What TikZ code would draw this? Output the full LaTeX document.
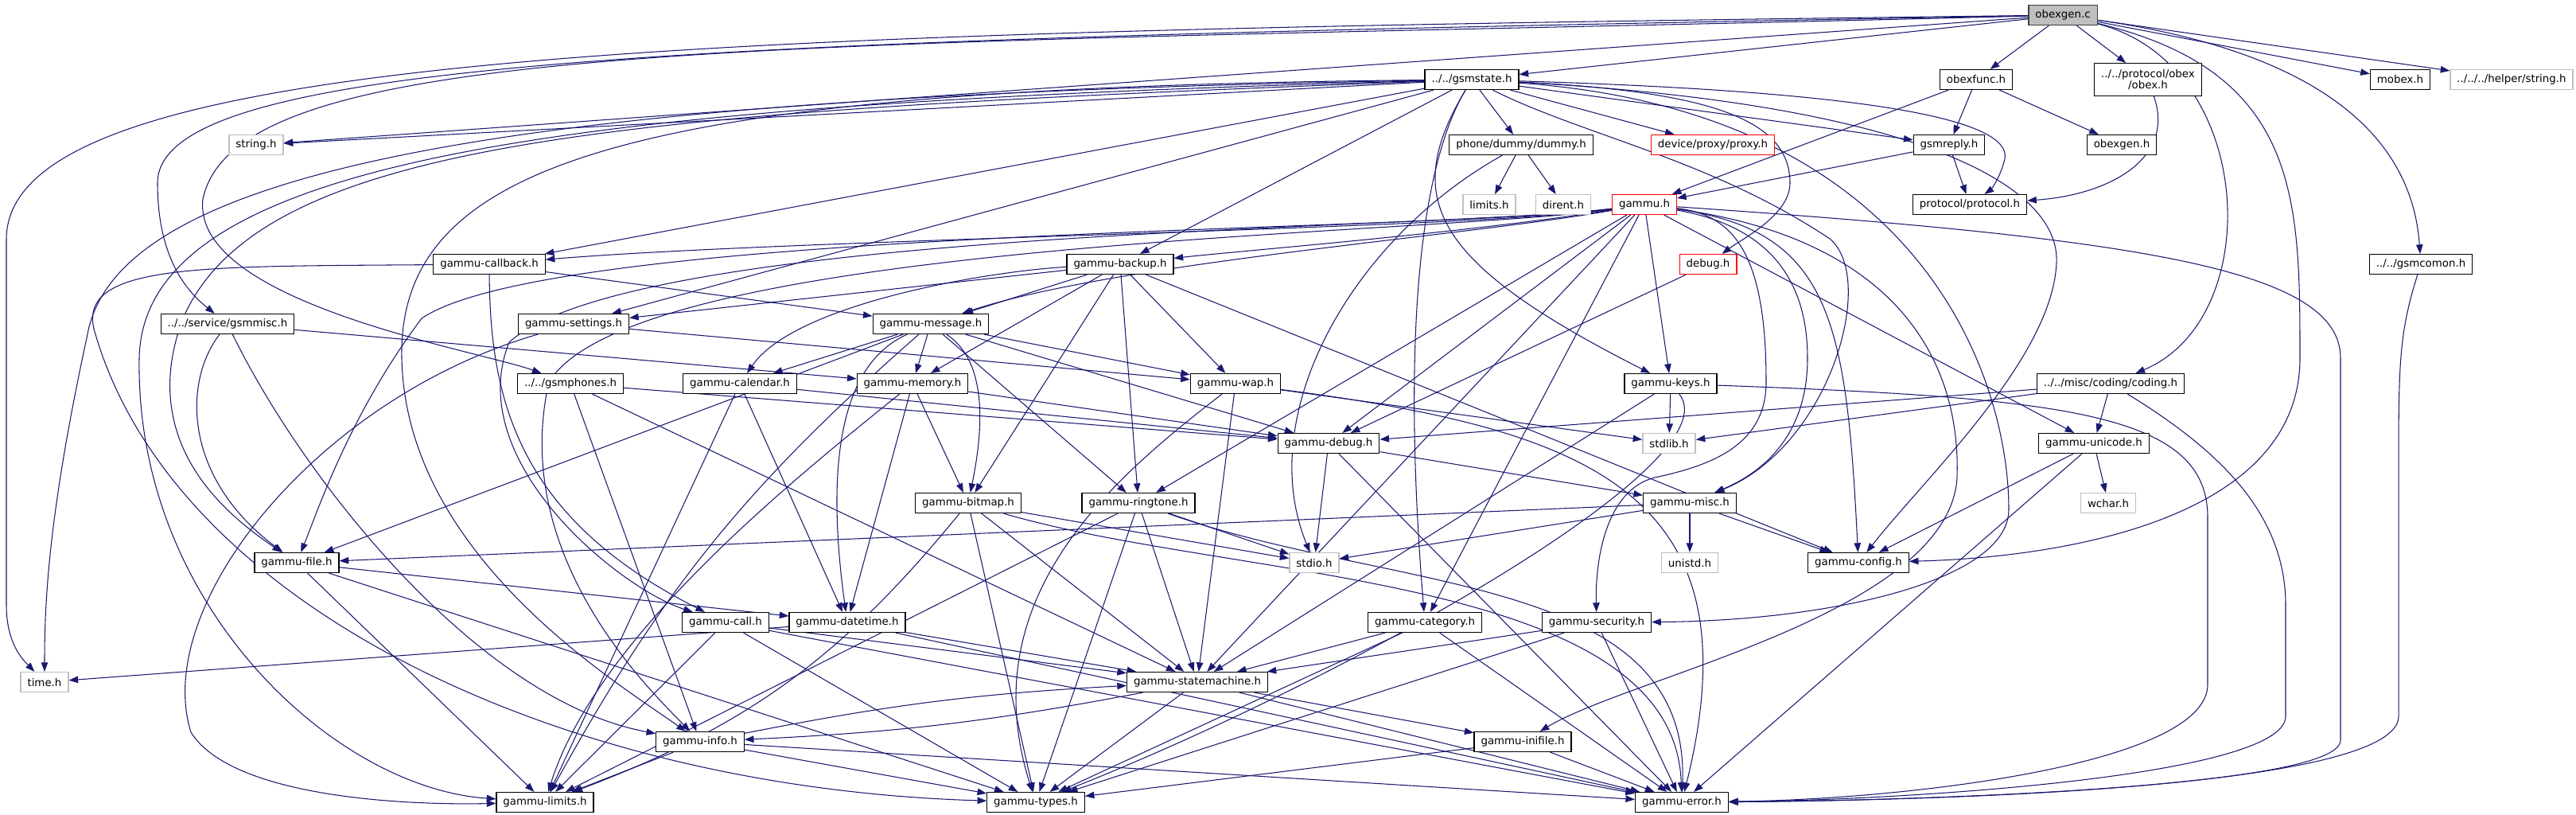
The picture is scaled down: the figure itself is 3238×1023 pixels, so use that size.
\documentclass[tikz,border=0pt]{standalone}
\usepackage{fontspec}
\setmainfont{DejaVu Sans}
\usetikzlibrary{arrows.meta,backgrounds}
\definecolor{edgeblue}{HTML}{191970}
\definecolor{sysgray}{HTML}{BFBFBF}
\begin{document}
\begin{tikzpicture}[x=0.01cm,y=-0.01cm,
    hdr/.style={draw=black, line width=0.35pt, fill=white, minimum height=7.1pt,
        inner xsep=2.4pt, inner ysep=0pt, font=\fontsize{3.8}{4.2}\selectfont},
    syshdr/.style={hdr, draw=sysgray},
    cuthdr/.style={hdr, draw=red},
    srcfile/.style={hdr, fill=sysgray, draw=black!75},
    inc/.style={draw=edgeblue, line width=0.3pt, -{Triangle[length=3.3pt,width=2.4pt]}}]
    \useasboundingbox (0,0) rectangle (3238,1023);
    % top rows
    \node[srcfile] (obexgenc) at (2593,19) {obexgen.c};
    \node[hdr] (gsmstate) at (1850,100) {../../gsmstate.h};
    \node[hdr] (obexfunc) at (2484,100) {obexfunc.h};
    \node[hdr, align=center, minimum height=11.6pt] (obexh) at (2700,100) {../../protocol/obex\\/obex.h};
    \node[hdr] (mobex) at (3017,100) {mobex.h};
    \node[syshdr] (hstring) at (3157,100) {../../../helper/string.h};
    \node[hdr] (dummy) at (1912,182) {phone/dummy/dummy.h};
    \node[cuthdr] (proxy) at (2153,182) {device/proxy/proxy.h};
    \node[hdr] (gsmreply) at (2450,182) {gsmreply.h};
    \node[hdr] (obexgenh) at (2667,182) {obexgen.h};
    \node[syshdr] (stringh) at (322,182) {string.h};
    \node[syshdr] (limits) at (1872,257) {limits.h};
    \node[syshdr] (dirent) at (1965,257) {dirent.h};
    \node[cuthdr] (gammuh) at (2067,257) {gammu.h};
    \node[hdr] (protocol) at (2476,257) {protocol/protocol.h};
    \node[cuthdr] (debugh) at (2147,332) {debug.h};
    \node[hdr] (gsmcomon) at (3043,332) {../../gsmcomon.h};
    \node[hdr] (callback) at (615,332) {gammu-callback.h};
    \node[hdr] (backup) at (1408,332) {gammu-backup.h};
    % middle rows
    \node[hdr] (gsmmisc) at (286,407) {../../service/gsmmisc.h};
    \node[hdr] (settings) at (721,407) {gammu-settings.h};
    \node[hdr] (message) at (1170,407) {gammu-message.h};
    \node[hdr] (gsmphones) at (717,482) {../../gsmphones.h};
    \node[hdr] (calendar) at (930,482) {gammu-calendar.h};
    \node[hdr] (memory) at (1147,482) {gammu-memory.h};
    \node[hdr] (wap) at (1553,482) {gammu-wap.h};
    \node[hdr] (keys) at (2100,482) {gammu-keys.h};
    \node[hdr] (coding) at (2653,482) {../../misc/coding/coding.h};
    \node[hdr] (gdebug) at (1670,557) {gammu-debug.h};
    \node[syshdr] (stdlib) at (2098,557) {stdlib.h};
    \node[hdr] (unicode) at (2632,557) {gammu-unicode.h};
    \node[hdr] (bitmap) at (1217,632) {gammu-bitmap.h};
    \node[hdr] (ringtone) at (1431,632) {gammu-ringtone.h};
    \node[hdr] (misc) at (2124,632) {gammu-misc.h};
    \node[syshdr] (wchar) at (2650,632) {wchar.h};
    \node[hdr] (file) at (373,707) {gammu-file.h};
    \node[syshdr] (stdio) at (1652,707) {stdio.h};
    \node[syshdr] (unistd) at (2124,707) {unistd.h};
    \node[hdr] (config) at (2336,707) {gammu-config.h};
    % bottom rows
    \node[hdr] (call) at (912,782) {gammu-call.h};
    \node[hdr] (datetime) at (1065,782) {gammu-datetime.h};
    \node[hdr] (category) at (1791,782) {gammu-category.h};
    \node[hdr] (security) at (2007,782) {gammu-security.h};
    \node[syshdr] (timeh) at (56,857) {time.h};
    \node[hdr] (statemachine) at (1505,857) {gammu-statemachine.h};
    \node[hdr] (info) at (880,932) {gammu-info.h};
    \node[hdr] (inifile) at (1914,932) {gammu-inifile.h};
    \node[hdr] (glimits) at (685,1008) {gammu-limits.h};
    \node[hdr] (types) at (1302,1008) {gammu-types.h};
    \node[hdr] (error) at (2114,1008) {gammu-error.h};
    \begin{scope}[on background layer]
    % straight includes
    \foreach \a/\b in {obexgenc/gsmstate, obexgenc/obexfunc, obexgenc/obexh, obexgenc/mobex,
        obexgenc/hstring, obexgenc/stringh, gsmstate/stringh, gsmstate/callback, gsmstate/settings,
        gsmstate/backup, gsmstate/dummy, gsmstate/proxy, gsmstate/gsmreply,
        obexfunc/gammuh, obexfunc/gsmreply, obexfunc/obexgenh, gsmreply/gammuh, gsmreply/protocol,
        dummy/limits, dummy/dirent, gammuh/gdebug,
        gammuh/ringtone, gammuh/statemachine, gammuh/category, gammuh/keys, gammuh/unicode,
        debugh/gdebug, callback/message, backup/message, backup/memory, backup/settings,
        backup/bitmap, backup/ringtone, backup/wap, backup/config, gsmmisc/memory, settings/wap,
        message/memory, message/ringtone, message/wap, message/gdebug, message/file, message/calendar,
        gsmphones/gdebug, gsmphones/info, gsmphones/statemachine, calendar/gdebug, calendar/datetime,
        calendar/glimits, memory/bitmap, memory/datetime, memory/gdebug, wap/stdlib, wap/statemachine,
        keys/stdlib, keys/statemachine, coding/unicode, coding/stdlib, coding/gdebug, gdebug/stdio,
        gdebug/misc, gdebug/error, unicode/wchar, unicode/config, unicode/error, bitmap/stdio,
        bitmap/statemachine, bitmap/types, ringtone/stdio, ringtone/statemachine, ringtone/types,
        ringtone/glimits, misc/unistd, misc/config, misc/stdio, misc/file, file/datetime, file/glimits,
        file/types, call/statemachine, call/glimits, call/types, call/error, datetime/timeh,
        datetime/statemachine, datetime/error, category/statemachine, category/types, category/error,
        security/statemachine, security/types, security/error, statemachine/inifile,
        statemachine/types, statemachine/error, info/glimits, info/types, info/error, inifile/types,
        inifile/error}
        \draw[inc] (\a) -- (\b);
    % routed includes
    \draw[inc] (obexgenc) .. controls (900,40) and (10,60) .. (8,300) -- (8,760) .. controls (8,810) and (30,830) .. (timeh);
    \draw[inc] (obexgenc) .. controls (900,50) and (198,70) .. (198,230) .. controls (198,330) and (240,370) .. (gsmmisc);
    \draw[inc] (obexgenc) .. controls (1000,60) and (300,40) .. (255,250) .. controls (240,380) and (600,440) .. (gsmphones);
    \draw[inc] (obexgenc) .. controls (2880,60) and (3030,150) .. (gsmcomon);
    \draw[inc] (obexgenc) .. controls (2836,80) and (2850,400) .. (coding);
    \draw[inc] (obexgenc) .. controls (2891,90) and (2891,250) .. (2891,450) .. controls (2891,650) and (2600,700) .. (config);
    \draw[inc] (gsmstate) .. controls (700,120) and (150,200) .. (110,420) .. controls (60,650) and (56,760) .. (timeh);
    \draw[inc] (gsmstate) .. controls (800,140) and (330,170) .. (230,400) .. controls (170,560) and (290,650) .. (file);
    \draw[inc] (gsmstate) .. controls (750,130) and (180,190) .. (175,450) .. controls (170,760) and (420,990) .. (glimits);
    \draw[inc] (gsmstate) .. controls (800,110) and (500,200) .. (505,450) .. controls (510,700) and (780,860) .. (info);
    \draw[inc] (gsmstate) .. controls (2150,115) and (2250,150) .. (2250,230) .. controls (2250,270) and (2190,300) .. (debugh);
    \draw[inc] (gsmstate) .. controls (1790,200) and (1760,400) .. (category);
    \draw[inc] (gsmstate) .. controls (1760,250) and (1800,330) .. (keys);
    \draw[inc] (gsmstate) .. controls (2350,115) and (2530,150) .. (2520,200) .. controls (2512,230) and (2500,240) .. (protocol);
    \draw[inc] (gsmstate) .. controls (2400,130) and (2590,230) .. (2585,330) .. controls (2580,450) and (2420,600) .. (config);
    \draw[inc] (gsmstate) .. controls (2420,140) and (2525,480) .. (2525,640) .. controls (2525,730) and (2300,780) .. (security);
    \draw[inc] (gsmstate) .. controls (1990,170) and (2150,200) .. (2300,300) .. controls (2360,350) and (2300,560) .. (misc);
    \draw[inc] (obexh) .. controls (2735,200) and (2650,245) .. (protocol);
    \draw[inc] (dummy) .. controls (1700,300) and (1575,520) .. (stdio);
    \draw[inc] (gammuh) .. controls (1850,288) and (1000,300) .. (callback);
    \draw[inc] (gammuh) .. controls (1850,292) and (1560,315) .. (backup);
    \draw[inc] (gammuh) .. controls (1850,296) and (1400,330) .. (message);
    \draw[inc] (gammuh) .. controls (1800,290) and (800,285) .. (640,430) .. controls (580,580) and (780,740) .. (call);
    \draw[inc] (gammuh) .. controls (1800,292) and (700,285) .. (530,400) .. controls (440,520) and (400,640) .. (file);
    \draw[inc] (gammuh) .. controls (1800,296) and (800,300) .. (690,480) .. controls (640,700) and (820,870) .. (info);
    \draw[inc] (gammuh) .. controls (2200,280) and (2272,330) .. (2272,450) .. controls (2272,560) and (2200,600) .. (misc);
    \draw[inc] (gammuh) .. controls (2300,290) and (2321,400) .. (config);
    \draw[inc] (gammuh) .. controls (2700,300) and (2942,340) .. (2942,450) -- (2942,930) .. controls (2942,990) and (2400,1006) .. (error);
    \draw[inc] (gammuh) .. controls (2180,270) and (2220,320) .. (2220,480) .. controls (2220,560) and (2150,585) .. (2080,600) .. controls (2020,615) and (2005,700) .. (security);
    \draw[inc] (gammuh) .. controls (2380,300) and (2465,450) .. (2460,600) .. controls (2450,770) and (2050,850) .. (inifile);
    \draw[inc] (callback) .. controls (616,500) and (650,650) .. (call);
    \draw[inc] (callback) .. controls (250,335) and (90,330) .. (120,420) .. controls (220,760) and (700,990) .. (types);
    \draw[inc] (backup) .. controls (1250,340) and (1000,380) .. (calendar);
    \draw[inc] (settings) .. controls (400,500) and (190,760) .. (240,920) .. controls (290,1000) and (500,1012) .. (glimits);
    \draw[inc] (gsmmisc) .. controls (230,480) and (230,600) .. (file);
    \draw[inc] (gsmmisc) .. controls (380,600) and (600,880) .. (info);
    \draw[inc] (message) .. controls (1050,460) and (1040,600) .. (datetime);
    \draw[inc] (message) .. controls (1235,450) and (1240,520) .. (bitmap);
    \draw[inc] (message) to[bend right=10] (glimits);
    \draw[inc] (memory) .. controls (1000,600) and (750,800) .. (glimits);
    \draw[inc] (wap) .. controls (1400,600) and (1220,750) .. (types);
    \draw[inc] (wap) .. controls (2000,540) and (2210,620) .. (error);
    \draw[inc] (keys) .. controls (2180,580) and (1700,850) .. (types);
    \draw[inc] (keys) .. controls (2600,500) and (2775,520) .. (2775,650) -- (2775,860) .. controls (2775,960) and (2400,1004) .. (error);
    \draw[inc] (coding) .. controls (2780,560) and (2873,640) .. (2873,760) -- (2873,900) .. controls (2873,975) and (2400,1005) .. (error);
    \draw[inc] (gsmcomon) .. controls (3015,420) and (3015,460) .. (3015,600) -- (3015,900) .. controls (3015,985) and (2500,1005) .. (error);
    \draw[inc] (bitmap) to[bend left=15] (glimits);
    \draw[inc] (bitmap) .. controls (1550,730) and (2105,720) .. (error);
    \draw[inc] (ringtone) .. controls (1750,745) and (2125,720) .. (error);
    \draw[inc] (info) to[bend left=4] (statemachine);
    \draw[inc] (statemachine) to[bend left=4] (info);
    \end{scope}
\end{tikzpicture}
\end{document}
